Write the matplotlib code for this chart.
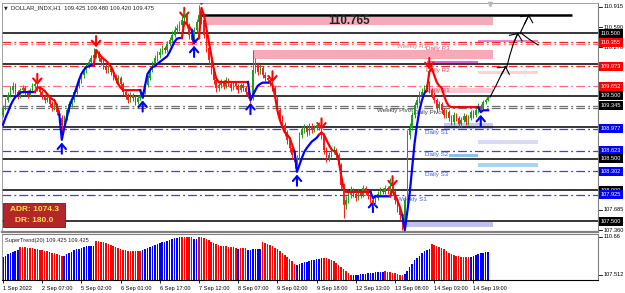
import numpy as np
import matplotlib.pyplot as plt
from matplotlib.patches import Rectangle

plt.rcParams['font.family'] = ['Liberation Sans', 'DejaVu Sans']

# ---- H1 candles (bar index 0 = 1 Sep 2022 00:00) ----
first_open = 109.20
close = [
    109.31, 109.43, 109.51, 109.59, 109.66, 109.56, 109.50, 109.59, 109.62, 109.56,
    109.51, 109.59, 109.66, 109.69, 109.62, 109.56, 109.50, 109.43, 109.47, 109.37,
    109.31, 109.35, 109.24, 109.15, 109.04, 109.15, 109.27, 109.37, 109.43, 109.56,
    109.66, 109.75, 109.83, 109.91, 109.98, 110.04, 110.10, 110.15, 110.20, 110.10,
    110.04, 109.98, 109.91, 109.94, 109.88, 109.82, 109.75, 109.78, 109.69, 109.56,
    109.50, 109.43, 109.51, 109.47, 109.40, 109.47, 109.50, 109.56, 109.67, 109.78,
    109.91, 110.01, 110.10, 110.15, 110.20, 110.26, 110.23, 110.33, 110.39, 110.47,
    110.55, 110.58, 110.63, 110.71, 110.79, 110.63, 110.47, 110.39, 110.55, 110.68,
    110.79, 110.71, 110.47, 110.26, 110.07, 109.91, 109.75, 109.62, 109.67, 109.72,
    109.66, 109.75, 109.69, 109.62, 109.70, 109.66, 109.59, 109.67, 109.62, 109.56,
    109.51, 109.47, 109.91, 109.99, 109.88, 109.94, 109.83, 109.78, 109.75, 109.72,
    109.62, 109.47, 109.27, 109.15, 109.04, 108.92, 108.80, 108.67, 108.56, 108.45,
    108.51, 108.88, 108.96, 108.99, 108.92, 109.02, 108.96, 108.99, 109.04, 109.00,
    108.88, 108.64, 108.51, 108.56, 108.61, 108.64, 108.56, 108.40, 108.08, 107.76,
    107.84, 107.92, 108.00, 107.94, 107.87, 107.97, 107.92, 108.03, 107.97, 107.91,
    107.84, 107.79, 107.87, 107.94, 108.00, 107.97, 108.03, 107.98, 108.06, 107.97,
    107.84, 107.71, 107.60, 107.49, 107.84, 108.88, 108.99, 109.20, 109.35, 109.43,
    109.51, 109.56, 109.62, 109.67, 109.59, 109.51, 109.43, 109.31, 109.37, 109.27,
    109.20, 109.24, 109.15, 109.08, 109.20, 109.15, 109.05, 109.12, 109.18, 109.08,
    109.15, 109.24, 109.20, 109.27, 109.34, 109.31, 109.40, 109.43, 109.475,
]
high = [
    109.36, 109.47, 109.56, 109.66, 109.72, 109.70, 109.60, 109.63, 109.68, 109.65,
    109.59, 109.62, 109.70, 109.74, 109.76, 109.66, 109.60, 109.53, 109.52, 109.50,
    109.41, 109.40, 109.38, 109.28, 109.19, 109.19, 109.31, 109.42, 109.48, 109.60,
    109.71, 109.80, 109.88, 109.97, 110.03, 110.09, 110.15, 110.26, 110.24, 110.22,
    110.13, 110.08, 110.01, 109.99, 109.97, 109.91, 109.85, 109.83, 109.81, 109.72,
    109.60, 109.54, 109.56, 109.55, 109.50, 109.51, 109.55, 109.60, 109.72, 109.83,
    109.96, 110.06, 110.15, 110.22, 110.26, 110.31, 110.30, 110.38, 110.44, 110.53,
    110.61, 110.64, 110.69, 110.77, 110.87, 110.82, 110.66, 110.50, 110.59, 110.73,
    110.95, 110.88, 110.74, 110.50, 110.30, 110.10, 109.94, 109.78, 109.72, 109.77,
    109.75, 109.80, 109.78, 109.72, 109.74, 109.73, 109.69, 109.71, 109.70, 109.65,
    109.59, 109.55, 110.23, 110.10, 110.04, 110.00, 109.97, 109.88, 109.83, 109.80,
    109.76, 109.65, 109.50, 109.31, 109.19, 109.08, 108.96, 108.84, 108.71, 108.60,
    108.56, 108.93, 109.02, 109.05, 109.03, 109.07, 109.06, 109.04, 109.09, 109.08,
    109.03, 108.91, 108.68, 108.61, 108.66, 108.70, 108.67, 108.59, 108.43, 108.11,
    107.90, 107.97, 108.06, 108.03, 107.97, 108.02, 108.00, 108.08, 108.06, 108.00,
    107.94, 107.88, 107.92, 107.99, 108.05, 108.04, 108.08, 108.06, 108.19, 108.09,
    108.00, 107.87, 107.74, 107.63, 107.90, 108.95, 109.06, 109.25, 109.40, 109.49,
    109.57, 109.62, 109.68, 109.73, 109.74, 109.63, 109.56, 109.47, 109.42, 109.40,
    109.31, 109.29, 109.27, 109.19, 109.24, 109.23, 109.18, 109.17, 109.23, 109.21,
    109.20, 109.28, 109.27, 109.32, 109.39, 109.37, 109.44, 109.47, 109.48,
]
low = [
    109.17, 109.28, 109.40, 109.48, 109.55, 109.52, 109.45, 109.47, 109.55, 109.52,
    109.47, 109.49, 109.56, 109.62, 109.58, 109.52, 109.45, 109.38, 109.40, 109.33,
    109.26, 109.27, 109.19, 109.08, 108.91, 109.00, 109.12, 109.24, 109.33, 109.40,
    109.53, 109.62, 109.71, 109.79, 109.87, 109.94, 110.00, 110.06, 110.10, 110.05,
    109.99, 109.93, 109.86, 109.87, 109.83, 109.76, 109.70, 109.71, 109.64, 109.52,
    109.45, 109.38, 109.40, 109.42, 109.35, 109.37, 109.44, 109.46, 109.53, 109.64,
    109.75, 109.88, 109.97, 110.06, 110.11, 110.16, 110.18, 110.20, 110.29, 110.35,
    110.43, 110.50, 110.54, 110.59, 110.67, 110.58, 110.41, 110.32, 110.35, 110.52,
    110.65, 110.64, 110.42, 110.20, 110.01, 109.85, 109.69, 109.56, 109.58, 109.63,
    109.61, 109.63, 109.65, 109.57, 109.59, 109.61, 109.55, 109.56, 109.58, 109.52,
    109.46, 109.39, 109.44, 109.86, 109.83, 109.84, 109.78, 109.73, 109.70, 109.66,
    109.57, 109.41, 109.21, 109.08, 108.98, 108.86, 108.74, 108.61, 108.50, 108.35,
    108.40, 108.48, 108.83, 108.91, 108.86, 108.88, 108.91, 108.92, 108.95, 108.95,
    108.82, 108.58, 108.45, 108.47, 108.52, 108.57, 108.51, 108.34, 108.01, 107.55,
    107.70, 107.80, 107.88, 107.89, 107.82, 107.84, 107.87, 107.89, 107.92, 107.86,
    107.79, 107.73, 107.76, 107.84, 107.91, 107.93, 107.94, 107.93, 107.95, 107.92,
    107.78, 107.65, 107.53, 107.36, 107.45, 107.80, 108.82, 108.95, 109.15, 109.30,
    109.38, 109.46, 109.51, 109.57, 109.54, 109.46, 109.38, 109.25, 109.27, 109.22,
    109.14, 109.15, 109.10, 109.03, 109.04, 109.10, 109.00, 109.01, 109.08, 109.03,
    109.04, 109.11, 109.15, 109.17, 109.23, 109.26, 109.28, 109.37, 109.42,
]

# ---- supertrend line on price chart ----
st_line = [
    109.04, 109.15, 109.24, 109.34, 109.42, 109.48, 109.51, 109.55, 109.56, 109.56,
    109.56, 109.56, 109.56, 109.56, 109.63, 109.63, 109.61, 109.58, 109.53, 109.48,
    109.45, 109.43, 109.34, 109.20, 108.80, 108.99, 109.15, 109.31, 109.43, 109.51,
    109.63, 109.75, 109.85, 109.91, 109.96, 109.97, 109.99, 109.99, 110.23, 110.18,
    110.13, 110.09, 110.06, 110.02, 109.97, 109.89, 109.78, 109.69, 109.63, 109.59,
    109.59, 109.59, 109.59, 109.59, 109.59, 109.59, 109.59, 109.47, 109.67, 109.85,
    109.91, 109.96, 109.97, 110.01, 110.04, 110.07, 110.10, 110.13, 110.20, 110.28,
    110.36, 110.41, 110.42, 110.42, 110.68, 110.64, 110.60, 110.55, 110.34, 110.39,
    110.42, 110.90, 110.79, 110.58, 110.36, 110.15, 109.94, 109.78, 109.72, 109.72,
    109.72, 109.72, 109.72, 109.72, 109.72, 109.72, 109.72, 109.72, 109.72, 109.72,
    109.72, 109.43, 109.51, 109.59, 109.66, 109.69, 109.71, 109.71, 109.71, 109.71,
    109.67, 109.51, 109.27, 109.12, 109.01, 108.92, 108.88, 108.83, 108.72, 108.61,
    108.29, 108.40, 108.51, 108.61, 108.67, 108.72, 108.77, 108.80, 108.83, 108.88,
    108.92, 108.88, 108.80, 108.72, 108.65, 108.62, 108.61, 108.48, 108.24, 108.03,
    107.97, 107.97, 107.97, 107.97, 107.97, 107.97, 107.97, 107.97, 107.97, 107.97,
    107.97, 107.87, 107.90, 107.90, 107.90, 107.90, 107.90, 107.90, 107.90, 108.00,
    107.92, 107.83, 107.73, 107.60, 107.36, 107.65, 107.95, 108.35, 108.75, 109.04,
    109.27, 109.43, 109.54, 109.59, 109.88, 109.94, 109.83, 109.72, 109.66, 109.63,
    109.51, 109.40, 109.34, 109.32, 109.32, 109.32, 109.32, 109.32, 109.32, 109.32,
    109.32, 109.32, 109.32, 109.32, 109.32, 109.24, 109.27, 109.27, 109.27,
]
st_line_runs = [('up', 14), ('dn', 10), ('up', 14), ('dn', 19), ('up', 17), ('dn', 4),
                ('up', 3), ('dn', 20), ('up', 9), ('dn', 10), ('up', 10), ('dn', 21),
                ('up', 8), ('dn', 5), ('up', 10), ('dn', 21), ('up', 4)]

# ---- SuperTrend(20) histogram in sub window ----
st_hist = [
    109.01, 109.10, 109.20, 109.30, 109.40, 109.48, 109.55,
    109.80, 109.80, 109.78, 109.75, 109.72, 109.70, 109.68, 109.62, 109.58, 109.52,
    109.48, 109.45, 109.40, 109.35, 109.28, 109.20, 109.12, 109.07,
    109.10, 109.20, 109.30, 109.42, 109.52, 109.60, 109.68, 109.75, 109.80, 109.85,
    109.88, 109.90, 109.92,
    110.30, 110.28, 110.25, 110.20, 110.12, 110.05, 109.98, 109.90, 109.80, 109.72,
    109.65, 109.58, 109.52, 109.50, 109.50, 109.48, 109.48, 109.48, 109.47,
    109.55, 109.62, 109.70, 109.80, 109.88, 109.95, 110.02, 110.10, 110.18, 110.25,
    110.32, 110.40, 110.46, 110.52, 110.56, 110.60,
    110.66, 110.66, 110.66, 110.66, 110.66,
    110.45, 110.48,
    110.66, 110.62, 110.55, 110.45, 110.35, 110.25, 110.15, 110.05, 109.98, 109.92,
    109.88, 109.85, 109.82, 109.80, 109.78, 109.76,
    109.60,
    109.76, 109.76, 109.76,
    109.55, 109.58, 109.62, 109.65, 109.67, 109.68,
    110.20, 110.15, 110.05, 109.95, 109.85, 109.75, 109.62, 109.45, 109.30, 109.15,
    109.00, 108.85, 108.65, 108.45,
    108.33, 108.40, 108.47, 108.54, 108.60, 108.66, 108.72, 108.76, 108.80, 108.85,
    108.90,
    108.90, 108.88, 108.82, 108.72, 108.62, 108.50, 108.35, 108.18, 108.00, 107.80,
    107.65, 107.55,
    107.52, 107.53, 107.55, 107.57, 107.59, 107.62, 107.65, 107.67, 107.70, 107.72,
    107.74, 107.76, 107.78,
    107.80, 107.78, 107.74, 107.70, 107.64, 107.58, 107.53, 107.51,
    107.60, 107.85, 108.17, 108.45, 108.70, 108.90, 109.10, 109.30, 109.45, 109.56,
    109.65,
    110.05, 109.98, 109.90, 109.80, 109.70, 109.60, 109.45, 109.35, 109.25, 109.15,
    109.08, 109.03, 109.00, 108.99, 108.98, 108.98,
    109.00, 109.08, 109.15, 109.22, 109.28, 109.34, 109.40, 109.425,
]
st_hist_runs = [('up', 7), ('dn', 18), ('up', 13), ('dn', 19), ('up', 16), ('dn', 5),
                ('up', 2), ('dn', 16), ('up', 1), ('dn', 3), ('up', 6), ('dn', 14),
                ('up', 11), ('dn', 12), ('up', 13), ('dn', 8), ('up', 11), ('dn', 16),
                ('up', 8)]

time_labels = ['1 Sep 2022', '2 Sep 07:00', '5 Sep 02:00', '6 Sep 01:00', '6 Sep 17:00',
               '7 Sep 12:00', '8 Sep 07:00', '9 Sep 02:00', '9 Sep 18:00', '12 Sep 13:00',
               '13 Sep 08:00', '14 Sep 03:00', '14 Sep 19:00']
time_label_bars = list(range(0, 193, 16))

# levels
round_levels = [110.5, 110.0, 109.5, 109.0, 108.5, 108.0, 107.5]
res_levels = [(110.355, '#ff2020'), (110.33, '#ff7080'), (109.973, '#ff2020'), (109.652, '#ff6a78')]
pivot_levels = [109.345, 109.30]
sup_levels = [108.977, 108.623, 108.302, 107.925]
target_level = 110.79

# price scale boxes (value, box colour)
price_boxes = [(110.500, 'black'), (110.355, '#ff0000'), (109.973, '#ff0000'),
               (109.652, '#ff0000'), (109.500, 'black'), (109.345, 'black'),
               (108.977, '#0000ff'), (108.623, '#0000ff'), (108.500, 'black'),
               (108.302, '#0000ff'), (108.000, 'black'), (107.925, '#0000ff'),
               (107.500, 'black')]
price_ticks = [110.915, 110.590, 110.270, 107.685, 107.360]

# zones (bar from, bar to, price low, price high, colour)
zones = [
    (82.4, 200, 110.62, 110.76, '#f7a9b8'),
    (102, 200, 110.09, 110.23, '#f7a9b8'),
    (173, 194, 110.025, 110.055, '#e060d0'),
    (194, 218.4, 110.35, 110.39, '#f285c8'),
    (194, 218.4, 109.85, 109.89, '#f9d3db'),
    (172, 200, 109.54, 109.62, '#f9c8d2'),
    (180, 200, 108.97, 109.07, '#c8c8f4'),
    (194, 218.4, 108.74, 108.80, '#dadaf8'),
    (182, 194, 108.52, 108.57, '#88c0f0'),
    (194, 218.4, 108.37, 108.43, '#a8d4f4'),
    (164, 200, 107.41, 107.49, '#c0c0f0'),
]

level_texts = [
    ('Weekly R1', 161, 110.29, '#f07888'),
    ('Daily R3', 172.5, 110.26, '#e84860'),
    ('Daily R2', 172.5, 109.90, '#e84860'),
    ('Daily R1', 172.5, 109.58, '#e84860'),
    ('Weekly Pivot', 152.5, 109.27, '#404040'),
    ('Daily Pivot', 167.6, 109.24, '#404040'),
    ('Daily S1', 172.2, 108.91, '#4060e0'),
    ('Daily S2', 172.2, 108.56, '#4060e0'),
    ('Daily S3', 172.2, 108.24, '#4060e0'),
    ('Weekly S1', 160.8, 107.85, '#4060e0'),
]

# hand drawn projection arrows (bar, price)
sketch_paths = [
    [(198.8, 109.48), (201.2, 109.66), (203.3, 109.83), (205.3, 109.97)],
    [(205.5, 109.94), (206.9, 110.15), (208.4, 110.34), (210.2, 110.50)],
    [(211.0, 110.49), (212.8, 110.64), (214.7, 110.79)],
    [(211.4, 110.50), (214.8, 110.40), (218.4, 110.31)],
]
sketch_heads = [True, True, True, False]

# %%
W, H = 625, 293
fig = plt.figure(figsize=(W / 100, H / 100), dpi=100)


def frac(x0, y0, x1, y1):
    return [x0 / W, 1 - y1 / H, (x1 - x0) / W, (y1 - y0) / H]


ax = fig.add_axes(frac(2, 3, 598, 232))
ax2 = fig.add_axes(frac(2, 234, 598, 280), sharex=ax)

x = np.arange(len(close))
c = np.array(close)
o = np.array([first_open] + close[:-1])
up = c >= o
ccol = np.where(up, '#1e9e1e', '#ff1a1a')

ax.set_xlim(-0.41, 242.86)
ax.set_ylim(107.332, 110.978)

for z in zones:
    ax.add_patch(Rectangle((z[0], z[2]), z[1] - z[0], z[3] - z[2], color=z[4], lw=0, zorder=1))

dashdot = (0, (7, 2.5, 1.5, 2.5))
for lv in round_levels:
    ax.axhline(lv, color='black', lw=1.1, zorder=2)
for lv, col in res_levels:
    ax.axhline(lv, color=col, lw=0.9, ls=dashdot, zorder=2)
for lv in pivot_levels:
    ax.axhline(lv, color='#707070', lw=0.9, ls=dashdot, zorder=2)
for lv in sup_levels:
    ax.axhline(lv, color='#3c3cf0', lw=0.9, ls=dashdot, zorder=2)
ax.hlines(target_level, 80.4, 232.2, color='black', lw=1.8, zorder=2)
ax.text((zones[0][0] + zones[0][1]) / 2, (zones[0][2] + zones[0][3]) / 2, '110.765',
        ha='center', va='center', fontsize=8.4, fontweight='bold', color='#222222', zorder=6)

for t, bx, py, col in level_texts:
    ax.text(bx, py, t, fontsize=4.5, color=col, va='center', ha='left', zorder=3)

# candles
ax.vlines(x, low, high, colors=ccol, lw=0.7, zorder=4)
ax.bar(x, np.maximum(np.abs(c - o), 0.012), bottom=np.minimum(o, c), width=0.6,
       color=ccol, lw=0, zorder=4)

# supertrend line and flip arrows
st = np.array(st_line)
start = 0
for k, (trend, n) in enumerate(st_line_runs):
    col = '#0000ff' if trend == 'up' else '#ff0000'
    s0 = max(start - 1, 0)
    ax.plot(x[s0:start + n], st[s0:start + n], color=col, lw=1.6, zorder=5,
            solid_joinstyle='round')
    if k > 0:
        dy = 10 if trend == 'dn' else -10
        ann = ax.annotate('', xy=(start, st[start]), xytext=(0, dy), textcoords='offset points',
                          arrowprops=dict(arrowstyle='->,head_length=0.35,head_width=0.3',
                                          color=col, lw=1.5, shrinkA=0, shrinkB=2))
        ann.arrow_patch.set_clip_box(ax.bbox)
        ann.arrow_patch.set_clip_on(True)
    start += n

for path, head in zip(sketch_paths, sketch_heads):
    xs, ys = zip(*path)
    ax.plot(xs, ys, color='black', lw=0.8, zorder=6)
    if head:
        ax.annotate('', xy=path[-1], xytext=path[-2],
                    arrowprops=dict(arrowstyle='->,head_length=0.35,head_width=0.5',
                                    color='black', lw=0.8, shrinkA=0, shrinkB=0))

# title and ADR box
ax.text(0.004, 0.978, '\u25bc', transform=ax.transAxes, fontsize=3.5, va='center',
        family='DejaVu Sans', color='#222222')
ax.text(0.015, 0.978, 'DOLLAR_INDX,H1  109.425 109.480 109.420 109.475',
        transform=ax.transAxes, fontsize=4.2, va='center', color='#222222')
ax.add_patch(Rectangle((0.0017, 0.022), 0.104, 0.105, transform=ax.transAxes,
                       fc='#b3262a', ec='#7a1414', lw=0.6, zorder=7))
ax.text(0.054, 0.098, 'ADR: 1074.3', transform=ax.transAxes, ha='center', va='center',
        fontsize=6, fontweight='bold', color='#ffe34d', zorder=8)
ax.text(0.054, 0.052, 'DR: 180.0', transform=ax.transAxes, ha='center', va='center',
        fontsize=6, fontweight='bold', color='#ffe34d', zorder=8)

# price scale
ax.tick_params(axis='x', bottom=False, labelbottom=False)
ax.set_yticks([])
trans = ax.get_yaxis_transform()
for v in price_ticks:
    ax.plot([1.0, 1.006], [v, v], transform=trans, color='black', lw=0.6, clip_on=False)
    ax.text(1.009, v, f'{v:.3f}', transform=trans, fontsize=4.1, va='center', ha='left',
            clip_on=False)
for v, col in price_boxes:
    ax.text(1.0045, v, f'{v:.3f}', transform=trans, fontsize=4.1, va='center', ha='left',
            color='white', clip_on=False, zorder=9,
            bbox=dict(boxstyle='square,pad=0.35', fc=col, ec='none'))
ax.plot(198.8, 110.955, marker='v', color='#b8b8b8', ms=3, clip_on=False, zorder=6)

for side in ['left', 'top']:
    ax.spines[side].set_color('#909090')
    ax.spines[side].set_linewidth(0.6)
ax.spines['right'].set_color('#808080')
ax.spines['bottom'].set_color('#808080')
ax.spines['bottom'].set_linewidth(1.6)

# indicator window
hist = np.array(st_hist)
hcol = []
for trend, n in st_hist_runs:
    hcol += ['#0000ff' if trend == 'up' else '#ff0000'] * n
ax2.bar(x, hist, width=0.65, color=hcol, lw=0)
ax2.set_ylim(107.10, 110.87)
ax2.set_yticks([])
ax2.text(0.005, 0.85, 'SuperTrend(20) 109.425 109.425', transform=ax2.transAxes,
         fontsize=4.1, va='center', color='#222222')
for v, lab in [(110.65, '110.66'), (107.512, '107.512')]:
    t2 = ax2.get_yaxis_transform()
    ax2.plot([1.0, 1.006], [v, v], transform=t2, color='black', lw=0.6, clip_on=False)
    ax2.text(1.009, v, lab, transform=t2, fontsize=4.1, va='center', ha='left', clip_on=False)
ax2.set_xticks(time_label_bars)
ax2.set_xticklabels(time_labels, ha='left', fontsize=4.1)
ax2.tick_params(axis='x', length=2.5, width=0.6, pad=1.5)
ax2.spines['top'].set_color('#808080')
ax2.spines['right'].set_color('#808080')
ax2.spines['left'].set_color('#909090')
ax2.spines['left'].set_linewidth(0.6)
ax2.spines['bottom'].set_linewidth(0.8)

fig.savefig('out.png', dpi=100)
